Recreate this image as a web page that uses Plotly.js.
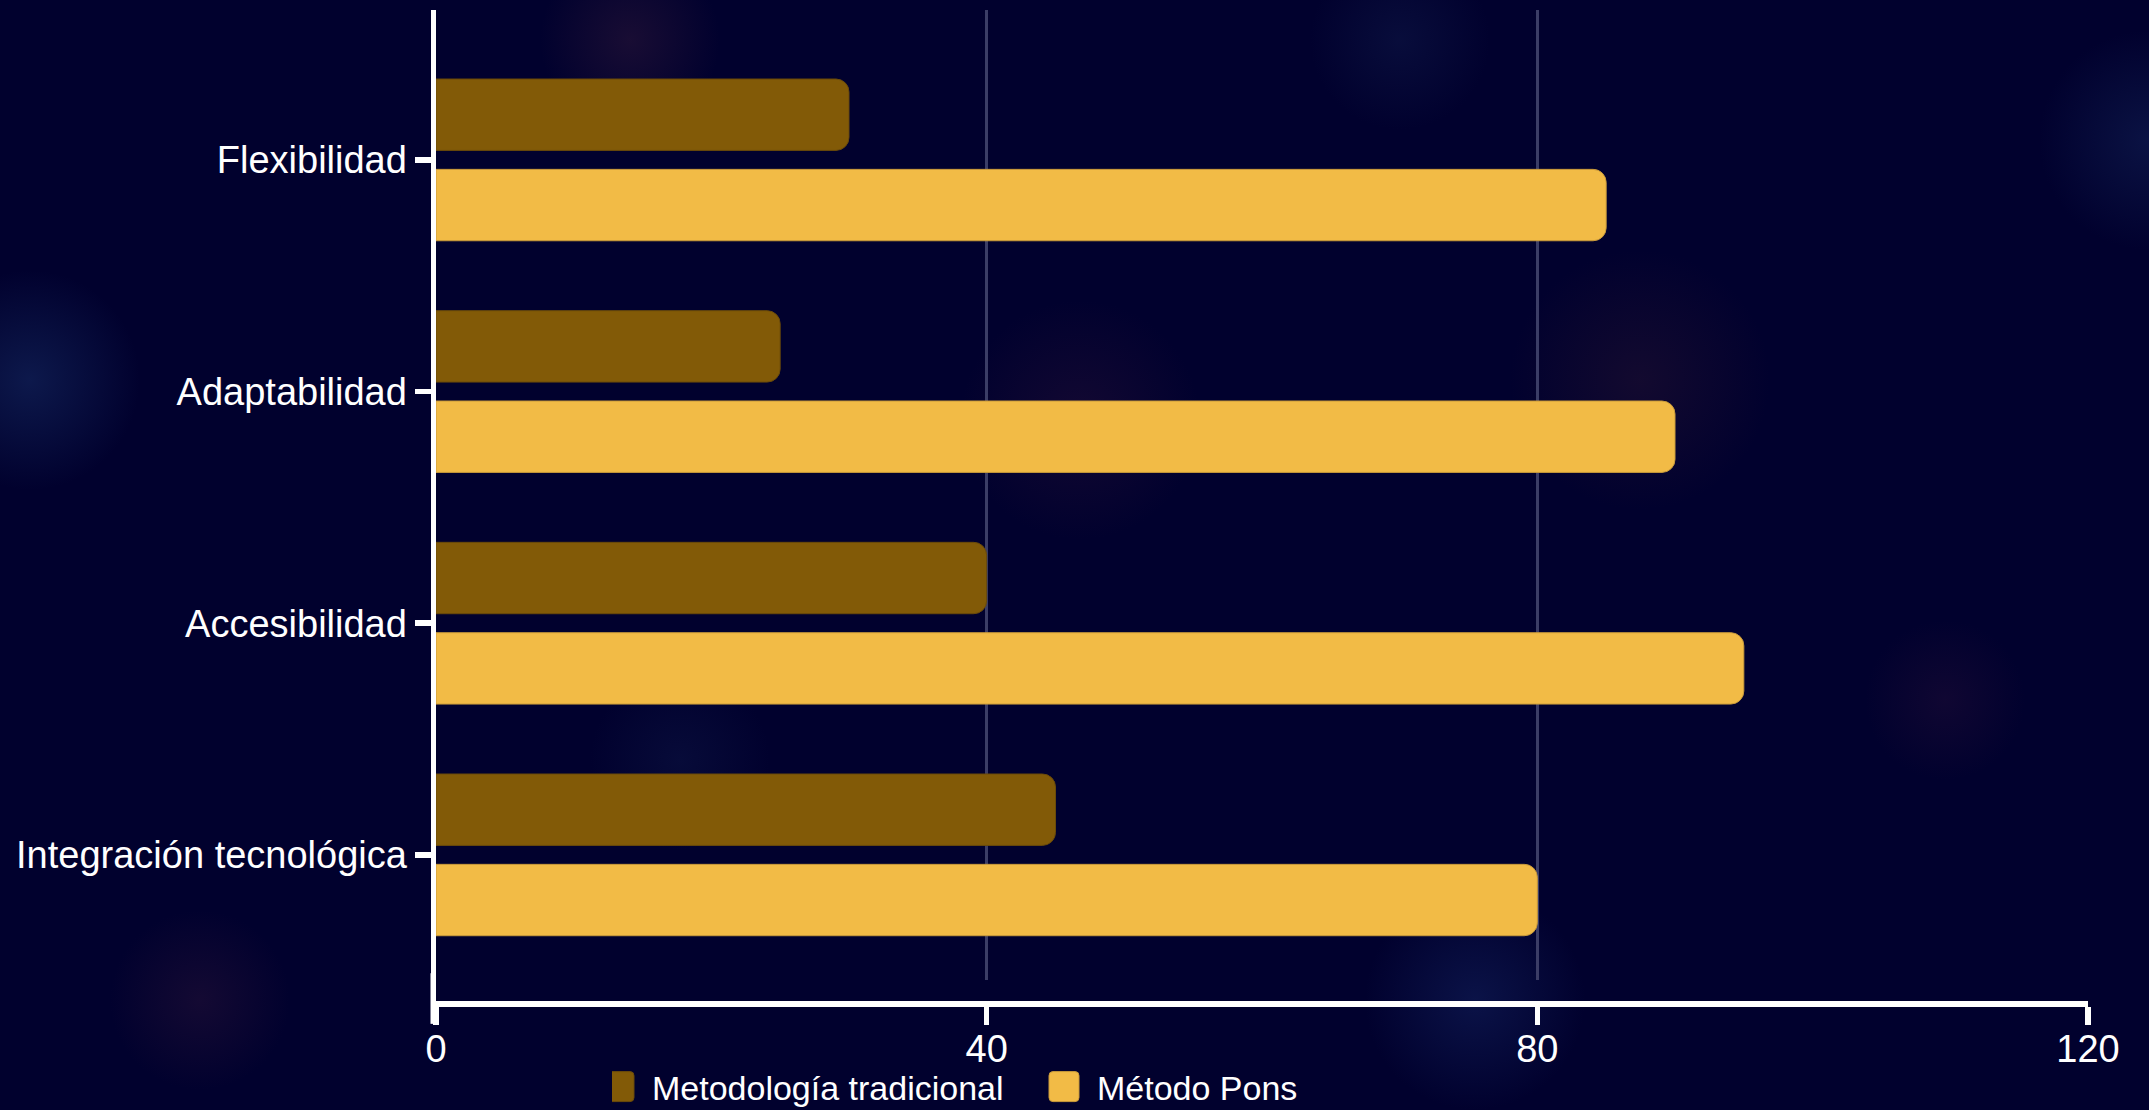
<!DOCTYPE html>
<html>
<head>
<meta charset="utf-8">
<script src="https://cdn.plot.ly/plotly-3.0.1.min.js"></script>
<style>
  html, body { margin:0; padding:0; width:2149px; height:1110px; overflow:hidden; background:#01012e; }
  #bg { position:absolute; left:0; top:0; width:2149px; height:1110px;
    background:
      radial-gradient(circle at 30px 380px, rgba(30,60,120,0.40) 0, rgba(30,60,120,0) 110px),
      radial-gradient(circle at 630px 40px, rgba(60,30,60,0.40) 0, rgba(60,30,60,0) 90px),
      radial-gradient(circle at 1080px 420px, rgba(60,25,60,0.30) 0, rgba(60,25,60,0) 120px),
      radial-gradient(circle at 1640px 380px, rgba(60,30,50,0.30) 0, rgba(60,30,50,0) 130px),
      radial-gradient(circle at 2149px 140px, rgba(25,45,100,0.40) 0, rgba(25,45,100,0) 110px),
      radial-gradient(circle at 1400px 40px, rgba(25,40,90,0.30) 0, rgba(25,40,90,0) 90px),
      radial-gradient(circle at 1945px 700px, rgba(50,20,60,0.30) 0, rgba(50,20,60,0) 80px),
      radial-gradient(circle at 1475px 1000px, rgba(25,45,110,0.40) 0, rgba(25,45,110,0) 110px),
      radial-gradient(circle at 200px 1000px, rgba(55,25,60,0.35) 0, rgba(55,25,60,0) 90px),
      radial-gradient(circle at 680px 760px, rgba(25,40,90,0.25) 0, rgba(25,40,90,0) 90px),
      #01012e; }
  #chart { position:absolute; left:0; top:0; width:2149px; height:1110px; }
</style>
</head>
<body>
<div id="bg"></div>
<div id="chart"></div>
<script>
const categories = ['Flexibilidad', 'Adaptabilidad', 'Accesibilidad', 'Integración tecnológica'];
const traditionalValues = [30, 25, 40, 45];
const ponsValues = [85, 90, 95, 80];
const seriesNames = ['Metodología tradicional', 'Método Pons'];
const xTicks = [0, 40, 80, 120];

const FONT = '"Liberation Sans", Arimo, Arial, sans-serif';

const traces = [
  { type:'bar', orientation:'h', name:seriesNames[0], y:categories, x:traditionalValues,
    marker:{ color:'#825a07', line:{ color:'#6a4a0a', width:1 } } },
  { type:'bar', orientation:'h', name:seriesNames[1], y:categories, x:ponsValues,
    marker:{ color:'#f2bb46', line:{ color:'#c99a3a', width:1 } } }
];

const layout = {
  width:2149, height:1110,
  paper_bgcolor:'rgba(0,0,0,0)', plot_bgcolor:'rgba(0,0,0,0)',
  margin:{ l:436, r:61, t:10, b:107, autoexpand:false },
  font:{ family:FONT, color:'#ffffff', size:38 },
  barmode:'group', bargap:0.22, bargroupgap:0.21, barcornerradius:13,
  showlegend:true,
  legend:{ orientation:'h', xref:'container', x:612/2149, xanchor:'left',
    yref:'container', y:23/1110, yanchor:'middle', entrywidth:400,
    font:{ family:FONT, size:34, color:'#ffffff' }, bgcolor:'rgba(0,0,0,0)',
    traceorder:'normal', itemclick:false },
  xaxis:{ range:[0,120], tickvals:xTicks, ticktext:xTicks.map(String),
    anchor:'free', position:0,
    showline:true, linecolor:'#ffffff', linewidth:5.5,
    ticks:'outside', ticklen:18, tickwidth:5.5, tickcolor:'#ffffff', ticklabelstandoff:-8,
    showgrid:true, gridcolor:'#3b3d66', gridwidth:2.5, zeroline:false,
    tickfont:{ family:FONT, size:38, color:'#ffffff' }, fixedrange:true },
  yaxis:{ domain:[0.0232,1], type:'category', categoryorder:'array', categoryarray:categories,
    range:[3.54,-0.647],
    showline:true, linecolor:'#ffffff', linewidth:5.5,
    ticks:'outside', ticklen:16, tickwidth:5.5, tickcolor:'#ffffff', ticklabelstandoff:0,
    showgrid:false, zeroline:false,
    tickfont:{ family:FONT, size:38, color:'#ffffff' }, fixedrange:true },
  shapes:[
    { type:'line', xref:'paper', yref:'paper', x0:-2.75/1652, x1:-2.75/1652, y0:0.03, y1:-0.021,
      line:{ color:'#ffffff', width:5.5 } }
  ]
};

Plotly.newPlot('chart', traces, layout, { displayModeBar:false, staticPlot:true }).then(function(gd){
  // enlarge legend swatches to rounded squares like the reference
  gd.querySelectorAll('.legend .legendpoints path').forEach(function(p){
    p.setAttribute('d', 'M-15,-11Q-15,-15 -11,-15H11Q15,-15 15,-11V11Q15,15 11,15H-11Q-15,15 -15,11Z');
    p.setAttribute('transform', 'translate(7,0)');
  });
});
</script>
</body>
</html>
